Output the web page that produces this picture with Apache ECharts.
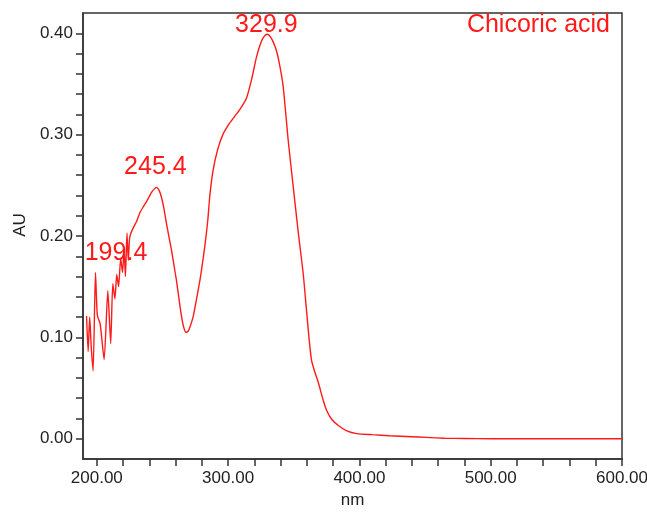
<!DOCTYPE html>
<html>
<head>
<meta charset="utf-8">
<title>Chicoric acid UV spectrum</title>
<script src="https://cdn.jsdelivr.net/npm/echarts@6/dist/echarts.min.js"></script>
<style>
  html, body { margin: 0; padding: 0; background: #fff; }
  #chart { width: 647px; height: 512px; }
</style>
</head>
<body>
<div id="chart"></div>
<script>
// wavelength (nm) and absorbance (AU)
const wavelength = [
  192.2, 193.4, 194.6, 195.8, 197.2, 199.0, 200.4, 202.6, 205.6, 208.4,
  210.6, 212.2, 213.8, 215.2, 216.6, 218.2, 219.6, 220.8, 221.8, 223.0,
  224.0, 225.1, 227.7, 230.2, 232.8, 235.5, 237.9, 240.0, 241.7, 243.5,
  245.4, 247.5, 249.3, 251.0, 253.1, 255.0, 256.9, 258.8, 260.7, 262.6,
  264.5, 266.0, 267.8, 269.5, 270.9, 273.5, 276.0, 279.0, 282.3, 284.5,
  286.1, 288.6, 292.0, 296.0, 301.0, 305.0, 309.0, 314.0, 318.0, 321.7,
  325.0, 327.5, 329.9, 332.0, 334.5, 337.0, 339.5, 342.0, 345.8, 349.5,
  353.4, 357.2, 359.5, 361.8, 363.6, 366.0, 368.6, 372.0, 375.0, 379.0,
  384.0, 390.0, 398.0, 410.0, 423.0, 440.0, 451.0, 465.0, 480.0, 500.0,
  550.0, 600.0
]
const absorbance = [
  0.121, 0.086, 0.120, 0.090, 0.067, 0.164, 0.122, 0.113, 0.078, 0.146,
  0.094, 0.153, 0.138, 0.162, 0.150, 0.178, 0.164, 0.188, 0.160, 0.203,
  0.176, 0.199, 0.208, 0.214, 0.223, 0.229, 0.234, 0.239, 0.243, 0.246,
  0.248, 0.245, 0.238, 0.228, 0.212, 0.199, 0.186, 0.171, 0.156, 0.138,
  0.121, 0.111, 0.105, 0.106, 0.110, 0.121, 0.138, 0.160, 0.190, 0.215,
  0.240, 0.265, 0.285, 0.300, 0.311, 0.318, 0.325, 0.336, 0.355, 0.377,
  0.391, 0.397, 0.399, 0.397, 0.391, 0.382, 0.367, 0.347, 0.294, 0.250,
  0.204, 0.163, 0.130, 0.097, 0.077, 0.066, 0.056, 0.040, 0.028, 0.019,
  0.013, 0.008, 0.005, 0.004, 0.003, 0.002, 0.0013, 0.0005, 0.0002, 0.0,
  0.0, 0.0
]

// peak annotations: [label, nm, AU]
const peaks = [
  ['329.9', 329.9, 0.399],
  ['245.4', 245.4, 0.248],
  ['199.4', 199.4, 0.164]
]
const peakOffsets = [[-1, -9], [-1, -20], [20, -19]]

const xTicks = [200, 220, 240, 260, 280, 300, 320, 340, 360, 380, 400,
  420, 440, 460, 480, 500, 520, 540, 560, 580, 600]
const xLabels = [200, 300, 400, 500, 600]
const yTicks = [0, 0.02, 0.04, 0.06, 0.08, 0.1, 0.12, 0.14, 0.16, 0.18, 0.2,
  0.22, 0.24, 0.26, 0.28, 0.3, 0.32, 0.34, 0.36, 0.38, 0.4]
const yLabels = [0, 0.1, 0.2, 0.3, 0.4]

const sans = "'Liberation Sans', Arial, sans-serif"
const red = '#ff1a1a'
const axisColor = '#333'

let myChart = echarts.init(document.getElementById('chart'))

let option = {
  animation: false,
  title: {
    text: 'Chicoric acid',
    right: 37,
    top: 13,
    padding: 0,
    textStyle: { color: red, fontFamily: sans, fontSize: 25, fontWeight: 'normal' }
  },
  grid: {
    left: 83,
    right: 25,
    top: 13,
    bottom: 53,
    outerBoundsMode: 'none',
    show: true,
    borderColor: axisColor,
    borderWidth: 1.5
  },
  xAxis: {
    type: 'value',
    min: 189.5,
    max: 600,
    name: 'nm',
    nameLocation: 'middle',
    nameGap: 30,
    nameTextStyle: { color: '#222', fontFamily: sans, fontSize: 17 },
    axisLine: { onZero: false, lineStyle: { color: axisColor, width: 1.5 } },
    axisTick: { length: 7, customValues: xTicks, lineStyle: { color: axisColor, width: 1.5 } },
    axisLabel: {
      customValues: xLabels,
      margin: 11,
      color: '#222',
      fontFamily: sans,
      fontSize: 17,
      formatter: v => v.toFixed(2)
    },
    splitLine: { show: false }
  },
  yAxis: {
    type: 'value',
    min: -0.02,
    max: 0.42,
    name: 'AU',
    nameLocation: 'middle',
    nameGap: 52,
    nameTextStyle: { color: '#222', fontFamily: sans, fontSize: 17, padding: [0, 0, 0, 22] },
    axisLine: { lineStyle: { color: axisColor, width: 1.5 } },
    axisTick: { length: 7, customValues: yTicks, lineStyle: { color: axisColor, width: 1.5 } },
    axisLabel: {
      customValues: yLabels,
      margin: 10,
      color: '#222',
      fontFamily: sans,
      fontSize: 17,
      formatter: v => v.toFixed(2)
    },
    splitLine: { show: false }
  },
  series: [{
    type: 'line',
    data: wavelength.map((w, i) => [w, absorbance[i]]),
    showSymbol: false,
    smooth: 0.2,
    lineStyle: { color: red, width: 1.4 },
    markPoint: {
      symbolSize: 0,
      silent: true,
      data: peaks.map((p, i) => ({
        coord: [p[1], p[2]],
        value: p[0],
        label: {
          show: true,
          position: 'inside',
          offset: peakOffsets[i],
          formatter: p[0],
          color: red,
          fontFamily: sans,
          fontSize: 25
        }
      }))
    }
  }]
}

myChart.setOption(option)
</script>
</body>
</html>
